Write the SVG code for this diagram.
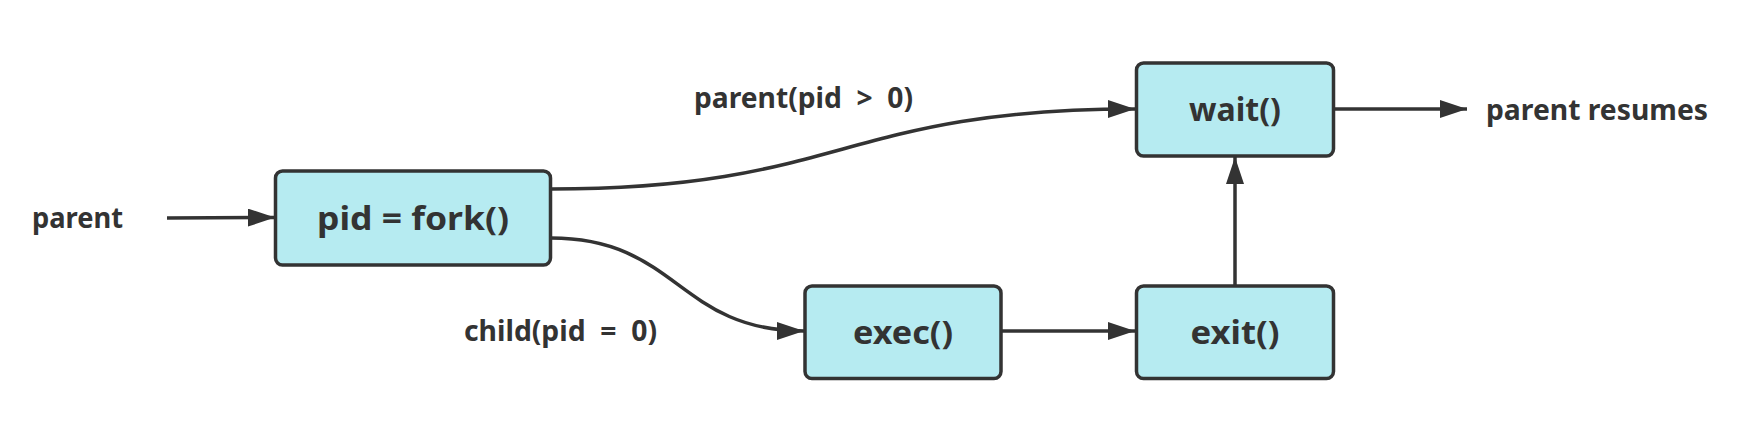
<svg xmlns="http://www.w3.org/2000/svg" width="1749" height="425" viewBox="0 0 1749 425">
<style>
.box{fill:#b6ebf1;stroke:#333;stroke-width:3.5}
.bt{font-family:"Noto Sans",sans-serif;font-weight:bold;font-size:32px;fill:#333;text-anchor:middle}
.lb{font-family:"Noto Sans",sans-serif;font-weight:bold;font-size:28px;fill:#333;white-space:pre}
.ln{fill:none;stroke:#333;stroke-width:3.5}
</style>
<defs>
<marker id="ah" markerUnits="userSpaceOnUse" markerWidth="28" markerHeight="20" refX="27" refY="9" orient="auto">
<path d="M0,0 L27,9 L0,18 Z" fill="#333"/>
</marker>
</defs>
<g id="labels">
<text class="lb" x="32" y="228" textLength="91" lengthAdjust="spacingAndGlyphs">parent</text>
<text class="lb" x="694" y="108" textLength="219" lengthAdjust="spacingAndGlyphs" xml:space="preserve">parent(pid  &gt;  0)</text>
<text class="lb" x="464" y="341" textLength="193" lengthAdjust="spacingAndGlyphs" xml:space="preserve">child(pid  =  0)</text>
<text class="lb" x="1486" y="120" textLength="222" lengthAdjust="spacingAndGlyphs">parent resumes</text>
</g>
<g id="connectors">
<path class="ln" d="M167,218 L275,217.5" marker-end="url(#ah)"/>
<path class="ln" d="M551,189 C843,189 843,109 1135,109" marker-end="url(#ah)"/>
<path class="ln" d="M551,238 C678,238 678,331 804,331" marker-end="url(#ah)"/>
<path class="ln" d="M1001,331 L1135,331" marker-end="url(#ah)"/>
<path class="ln" d="M1235,285 L1235,157" marker-end="url(#ah)"/>
<path class="ln" d="M1334,109 L1467,109" marker-end="url(#ah)"/>
</g>
<g id="fork">
<rect class="box" x="275.5" y="171" width="275" height="94" rx="7"/>
<text class="bt" x="413" y="230" textLength="192" lengthAdjust="spacingAndGlyphs" xml:space="preserve">pid = fork()</text>
</g>
<g id="wait">
<rect class="box" x="1136.5" y="63" width="197" height="93" rx="7"/>
<text class="bt" x="1235" y="121" textLength="92" lengthAdjust="spacingAndGlyphs">wait()</text>
</g>
<g id="exec">
<rect class="box" x="805" y="286" width="196" height="92.5" rx="7"/>
<text class="bt" x="903" y="344" textLength="100" lengthAdjust="spacingAndGlyphs">exec()</text>
</g>
<g id="exit">
<rect class="box" x="1136.5" y="286" width="197" height="92.5" rx="7"/>
<text class="bt" x="1235" y="344" textLength="89" lengthAdjust="spacingAndGlyphs">exit()</text>
</g>
</svg>
